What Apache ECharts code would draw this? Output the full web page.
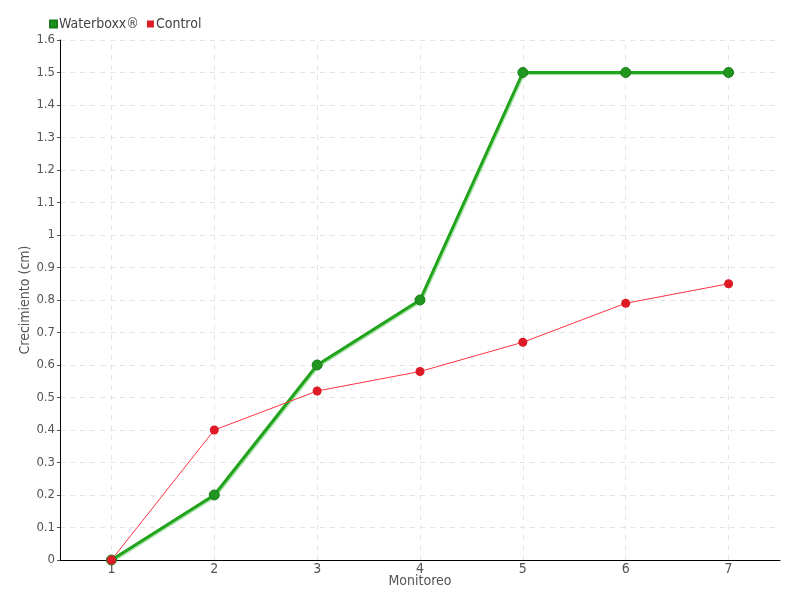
<!DOCTYPE html>
<html>
<head>
<meta charset="utf-8">
<script src="https://cdn.jsdelivr.net/npm/echarts@6/dist/echarts.min.js"></script>
<style>
  html, body { margin: 0; padding: 0; background: #fff; }
  #chart { width: 800px; height: 600px; }
</style>
</head>
<body>
<div id="chart"></div>
<script>
const monitoreo = ['1', '2', '3', '4', '5', '6', '7'];
const waterboxx = [0, 0.2, 0.6, 0.8, 1.5, 1.5, 1.5];
const control = [0, 0.4, 0.52, 0.58, 0.67, 0.79, 0.85];

const font = '"Liberation Sans Narrow", "DejaVu Sans Condensed", sans-serif';
const chart = echarts.init(document.getElementById('chart'));

// vertical grid lines sit on the category centres, not between them
const gridMarks = monitoreo.map(m => ({ xAxis: m }));

const option = {
  animation: false,
  textStyle: { fontFamily: font },
  legend: {
    left: 44,
    top: 12,
    itemWidth: 7,
    itemHeight: 7,
    itemGap: 8,
    icon: 'rect',
    textStyle: { fontFamily: font, fontSize: 14, color: '#444', padding: [0, 0, 0, -3] },
    data: ['Waterboxx®', 'Control']
  },
  grid: { left: 60, right: 20, top: 40, bottom: 40 },
  xAxis: {
    type: 'category',
    data: monitoreo,
    boundaryGap: true,
    name: 'Monitoreo',
    nameLocation: 'middle',
    nameGap: 14,
    nameMoveOverlap: false,
    nameTextStyle: { fontFamily: font, fontSize: 14, color: '#555' },
    axisLine: { lineStyle: { color: '#000', width: 1 } },
    axisTick: { alignWithLabel: true, length: 4, lineStyle: { color: '#555' } },
    axisLabel: { fontFamily: font, fontSize: 14, color: '#555', margin: 2 },
    splitLine: { show: false }
  },
  yAxis: {
    type: 'value',
    min: 0,
    max: 1.6,
    interval: 0.1,
    name: 'Crecimiento (cm)',
    nameLocation: 'middle',
    nameRotate: 90,
    nameGap: 28,
    nameMoveOverlap: false,
    nameTextStyle: { fontFamily: font, fontSize: 14, color: '#555' },
    axisLine: { show: true, lineStyle: { color: '#000', width: 1 } },
    axisTick: { show: true, length: 3, lineStyle: { color: '#555' } },
    axisLabel: { fontFamily: font, fontSize: 13, color: '#555', margin: 5 },
    splitLine: { show: true, lineStyle: { color: '#e4e4e4', type: [5, 5] } }
  },
  series: [
    {
      name: 'grid',
      type: 'line',
      data: [],
      z: 0,
      silent: true,
      markLine: {
        silent: true,
        z: 0,
        symbol: 'none',
        label: { show: false },
        lineStyle: { color: '#e4e4e4', type: [5, 5], width: 1 },
        data: gridMarks
      }
    },
    {
      name: 'Waterboxx®',
      type: 'line',
      data: waterboxx,
      z: 3,
      symbol: 'circle',
      symbolSize: 10,
      color: '#1f9e1f',
      lineStyle: { width: 3, color: '#22a31c', shadowColor: 'rgba(90,200,90,0.6)', shadowBlur: 1, shadowOffsetX: 1, shadowOffsetY: 1 },
      itemStyle: { color: '#20961e', borderColor: '#1a7d1a', borderWidth: 1 }
    },
    {
      name: 'Control',
      type: 'line',
      data: control,
      z: 3,
      symbol: 'circle',
      symbolSize: 9,
      color: '#e8182c',
      lineStyle: { width: 1, color: '#ff3346' },
      itemStyle: { color: '#dd1a26', borderColor: '#dd1a26', borderWidth: 0 }
    }
  ]
};

chart.setOption(option);
</script>
</body>
</html>
